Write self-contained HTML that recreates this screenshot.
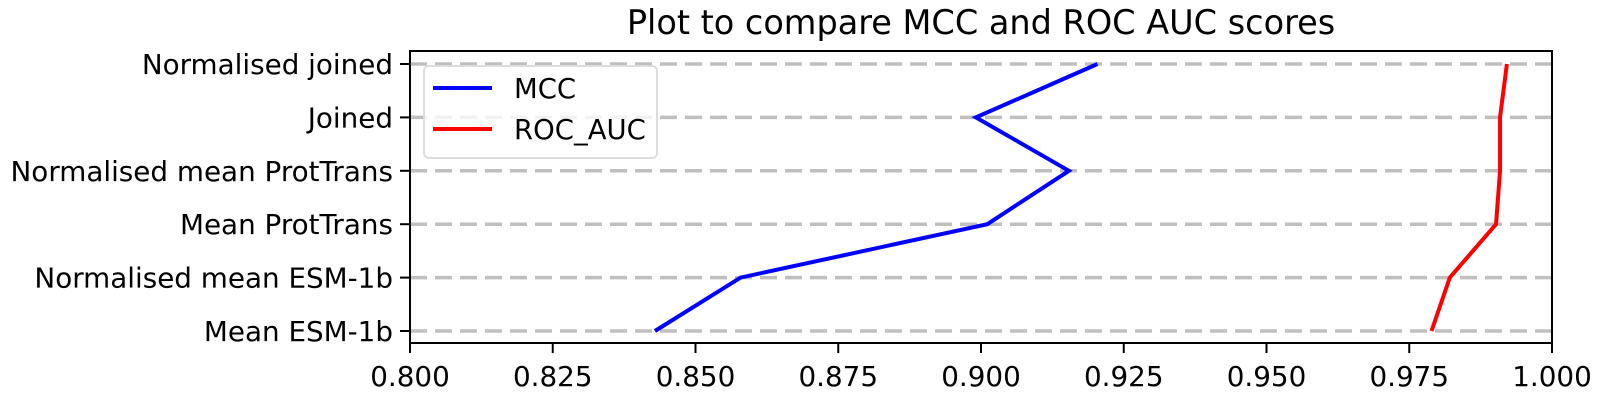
<!DOCTYPE html>
<html><head><meta charset="utf-8"><style>
body{margin:0;background:#fff;}
svg{display:block;font-family:"DejaVu Sans","Liberation Sans",sans-serif;}
</style></head><body>
<svg id="chart" width="1600" height="400">
<text x="981" y="34" font-size="33.5" text-anchor="middle">Plot to compare MCC and ROC AUC scores</text>
<g id="grid"></g><g id="series"></g><g id="axes"></g>
<g>
<rect x="424" y="66" width="233" height="92" rx="5" fill="#fff" fill-opacity="0.8" stroke="#ddd" stroke-width="2"/>
<line x1="433" y1="88" x2="492" y2="88" stroke="#0000ff" stroke-width="4"/>
<text x="514" y="98" font-size="27.5">MCC</text>
<line x1="433" y1="129" x2="492" y2="129" stroke="#ff0000" stroke-width="4"/>
<text x="514" y="139" font-size="27.5">ROC_AUC</text>
</g>
</svg>
<script>
const categories=["Mean ESM-1b","Normalised mean ESM-1b","Mean ProtTrans","Normalised mean ProtTrans","Joined","Normalised joined"];
const mcc=[0.8429,0.8579,0.9011,0.9154,0.8991,0.9204];
const rocAuc=[0.9789,0.9821,0.9902,0.9909,0.9909,0.9921];
const xTicks=[0.800,0.825,0.850,0.875,0.900,0.925,0.950,0.975,1.000];
const NS="http://www.w3.org/2000/svg";
const L=410,R=1552,T=51,B=343;
const xs=v=>L+(v-0.8)/0.2*(R-L);
const ys=i=>331-i*53.4;
function mk(tag,attrs,parent,txt){const e=document.createElementNS(NS,tag);for(const k in attrs)e.setAttribute(k,attrs[k]);if(txt!==undefined)e.textContent=txt;document.getElementById(parent).appendChild(e);return e;}
categories.forEach((c,i)=>{
 const g=mk("line",{x1:L,x2:R,y1:ys(i),y2:ys(i),stroke:"#bfbfbf","stroke-width":3.5,"stroke-dasharray":"17,8"},"grid");
 
 
 const t=mk("line",{x1:L-10,x2:L,y1:ys(i),y2:ys(i),stroke:"#000","stroke-width":2},"axes");
 
 
 const lb=mk("text",{x:L-17,y:ys(i)+10,"font-size":27.8,"text-anchor":"end"},"axes",c);
 
 
});
xTicks.forEach(v=>{
 const t=mk("line",{x1:xs(v),x2:xs(v),y1:B,y2:B+10,stroke:"#000","stroke-width":2},"axes");
 
 
 const lb=mk("text",{x:xs(v),y:B+43,"font-size":27.8,"text-anchor":"middle"},"axes",v.toFixed(3));
 
 
});
const fr=mk("rect",{x:L,y:T,width:R-L,height:B-T,fill:"none",stroke:"#000","stroke-width":2},"axes");


[[mcc,"#0000ff","mcc-line"],[rocAuc,"#ff0000","roc-auc-line"]].forEach(([d,col,n])=>{
 const p=mk("polyline",{points:d.map((v,i)=>xs(v)+","+ys(i)).join(" "),fill:"none",stroke:col,"stroke-width":4},"series");
 
 
});
</script>
</body></html>
